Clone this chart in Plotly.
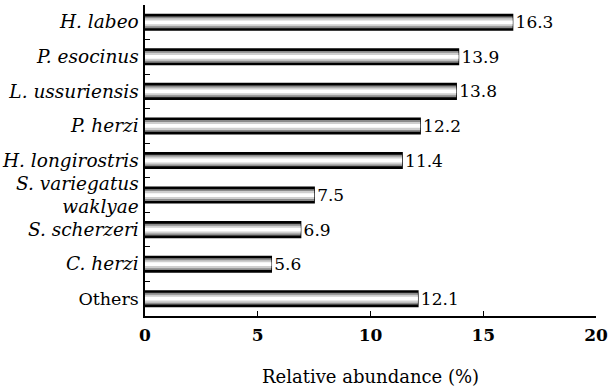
import plotly.graph_objects as go

species = ["H. labeo", "P. esocinus", "L. ussuriensis", "P. herzi", "H. longirostris",
           "S. variegatus<br>waklyae", "S. scherzeri", "C. herzi"]
other_label = "Others"
values = [16.3, 13.9, 13.8, 12.2, 11.4, 7.5, 6.9, 5.6, 12.1]
value_labels = ["16.3", "13.9", "13.8", "12.2", "11.4", "7.5", "6.9", "5.6", "12.1"]
x_ticks = [0, 5, 10, 15, 20]
x_title = "Relative abundance (%)"

FONT = "DejaVu Serif"


def italic(name):
    return "<br>".join(f'<span style="font-size:18.5px"><i>{p}</i></span>' for p in name.split("<br>"))


categories = [italic(s) for s in species] + [other_label]

fig = go.Figure()
# cylinder-like shading built from stacked layers
layers = [("#000000", 0.45), ("#8c8c8c", 0.34), ("#cfcfcf", 0.23), ("#ffffff", 0.11)]
for i, (col, w) in enumerate(layers):
    fig.add_trace(go.Bar(
        x=values, y=categories, orientation="h", width=w,
        marker=dict(color=col, line=dict(color="#000000", width=1.5 if i == 0 else 0)),
        text=value_labels if i == 0 else None,
        textposition="outside" if i == 0 else "none",
        constraintext="none",
        textfont=dict(family=FONT, size=17, color="#000"),
        cliponaxis=False, hoverinfo="skip", showlegend=False,
    ))

fig.add_annotation(text=x_title, xref="paper", yref="paper", x=0.5, y=-0.193,
                   xanchor="center", yanchor="middle", showarrow=False,
                   font=dict(family=FONT, size=18, color="#000"))

fig.update_layout(
    width=610, height=389,
    margin=dict(l=145, r=14, t=5, b=73),
    barmode="overlay",
    plot_bgcolor="white", paper_bgcolor="white",
    font=dict(family=FONT, size=17, color="#000"),
    xaxis=dict(range=[0, 20], tickvals=x_ticks, ticks="inside", ticklen=5, tickwidth=1.2,
               tickcolor="#000", showline=True, linecolor="#000", linewidth=1.5,
               showgrid=False, zeroline=False, ticklabelstandoff=3, automargin=False,
               tickfont=dict(family=FONT, size=17, color="#000", weight="bold")),
    yaxis=dict(categoryorder="array", categoryarray=categories, autorange="reversed",
               ticks="inside", tickson="boundaries", ticklen=5, tickwidth=1.2, tickcolor="#000",
               showline=True, linecolor="#000", linewidth=1.5, showgrid=False, automargin=False,
               tickfont=dict(family=FONT, size=17.5, color="#000"), ticklabelstandoff=1),
)

fig.write_html("out.html")
